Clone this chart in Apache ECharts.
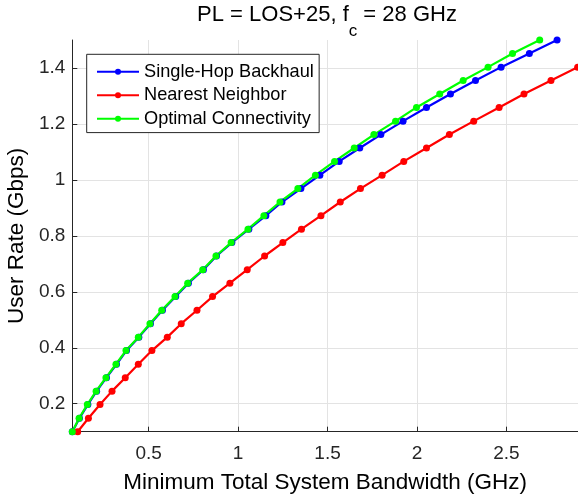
<!DOCTYPE html>
<html>
<head>
<meta charset="utf-8">
<script src="https://cdn.jsdelivr.net/npm/echarts@6/dist/echarts.min.js"></script>
<style>html,body{margin:0;padding:0;background:#fff;}#c{width:578px;height:497px;}</style>
</head>
<body>
<div id="c"></div>
<script>
// User rate (Gbps) levels shared by all curves
const userRate = [0.100,0.148,0.197,0.245,0.293,0.341,0.390,0.438,0.486,0.534,0.583,0.631,0.679,0.728,0.776,0.824,0.872,0.921,0.969,1.017,1.066,1.114,1.162,1.210,1.259,1.307,1.355,1.403,1.452,1.500];
// Minimum total system bandwidth (GHz) per series
const bwSingleHop = [0.073,0.113,0.160,0.209,0.264,0.320,0.376,0.445,0.510,0.577,0.651,0.722,0.806,0.879,0.965,1.060,1.155,1.245,1.351,1.457,1.565,1.680,1.798,1.922,2.053,2.187,2.327,2.470,2.628,2.783];
const bwNearest = [0.103,0.163,0.228,0.295,0.369,0.442,0.518,0.604,0.682,0.770,0.857,0.954,1.051,1.148,1.250,1.354,1.463,1.571,1.684,1.805,1.926,2.053,2.181,2.317,2.459,2.598,2.749,2.898];
const bwOptimal = [0.073,0.111,0.157,0.206,0.261,0.317,0.373,0.442,0.507,0.573,0.647,0.718,0.802,0.876,0.961,1.055,1.144,1.234,1.334,1.432,1.539,1.649,1.759,1.880,1.997,2.127,2.258,2.397,2.534,2.686];
const seriesNames = ['Single-Hop Backhaul','Nearest Neighbor','Optimal Connectivity'];
const xTicks = [0.5,1,1.5,2,2.5];
const yTicks = [0.2,0.4,0.6,0.8,1.0,1.2,1.4];

function pairs(xs){ return xs.map((x,i)=>[x,userRate[i]]); }

const FONT = 'Liberation Sans, Arial, Helvetica, sans-serif';
const axisCol = '#262626';
const gridCol = '#e3e3e3';

const chart = echarts.init(document.getElementById('c'), null, {renderer:'canvas'});
const mk = (name, xs, color) => ({
  name, type:'line', data:pairs(xs), color,
  lineStyle:{color, width:2.2}, itemStyle:{color},
  symbol:'circle', symbolSize:7, showSymbol:true, animation:false, clip:true
});
chart.setOption({
  animation:false,
  backgroundColor:'#fff',
  title:{
    text:'{a|PL = LOS+25, f}{s|c}{a| = 28 GHz}',
    left:327, textAlign:'center', top:4, padding:0,
    textStyle:{
      fontWeight:'normal',
      rich:{
        a:{fontFamily:FONT, fontSize:22, fontWeight:'normal', color:'#000', verticalAlign:'top'},
        s:{fontFamily:FONT, fontSize:17, fontWeight:'normal', color:'#000', verticalAlign:'top', padding:[18.5,0,0,0]}
      }
    }
  },
  grid:{left:72.3, top:40, right:0, bottom:65.3, containLabel:false, outerBoundsMode:'none'},
  legend:{
    orient:'vertical', left:86.7, top:54.3,
    data:seriesNames,
    itemWidth:42, itemHeight:7.5, itemGap:5.5,
    padding:[8.5,5.3,4.8,9.3],
    borderColor:axisCol, borderWidth:1, backgroundColor:'#fff',
    textStyle:{fontFamily:FONT, fontSize:18.2, color:'#000'},
  },
  xAxis:{
    type:'value', min:0.073, max:2.9,
    name:'Minimum Total System Bandwidth (GHz)', nameLocation:'middle', nameGap:40,
    nameTextStyle:{fontFamily:FONT, fontSize:22.5, color:'#000'},
    axisLine:{show:true, lineStyle:{color:axisCol, width:1}},
    axisTick:{show:true, inside:true, length:5, customValues:xTicks, lineStyle:{color:axisCol}},
    axisLabel:{customValues:xTicks, fontFamily:FONT, fontSize:19, color:'#262626', margin:13,
      formatter:v=>String(v)},
    splitLine:{show:true, lineStyle:{color:gridCol, width:1}}
  },
  yAxis:{
    type:'value', min:0.1, max:1.5,
    name:'User Rate (Gbps)', nameLocation:'middle', nameGap:32, nameRotate:90,
    nameTextStyle:{fontFamily:FONT, fontSize:22.5, color:'#000'},
    axisLine:{show:true, lineStyle:{color:axisCol, width:1}},
    axisTick:{show:true, inside:true, length:5, customValues:yTicks, lineStyle:{color:axisCol}},
    axisLabel:{customValues:yTicks, fontFamily:FONT, fontSize:19, color:'#262626', margin:7,
      formatter:v=>String(Math.round(v*10)/10)},
    splitLine:{show:true, lineStyle:{color:gridCol, width:1}}
  },
  series:[
    mk(seriesNames[0], bwSingleHop, '#0000ff'),
    mk(seriesNames[1], bwNearest, '#ff0000'),
    mk(seriesNames[2], bwOptimal, '#00ff00')
  ]
});
</script>
</body>
</html>
